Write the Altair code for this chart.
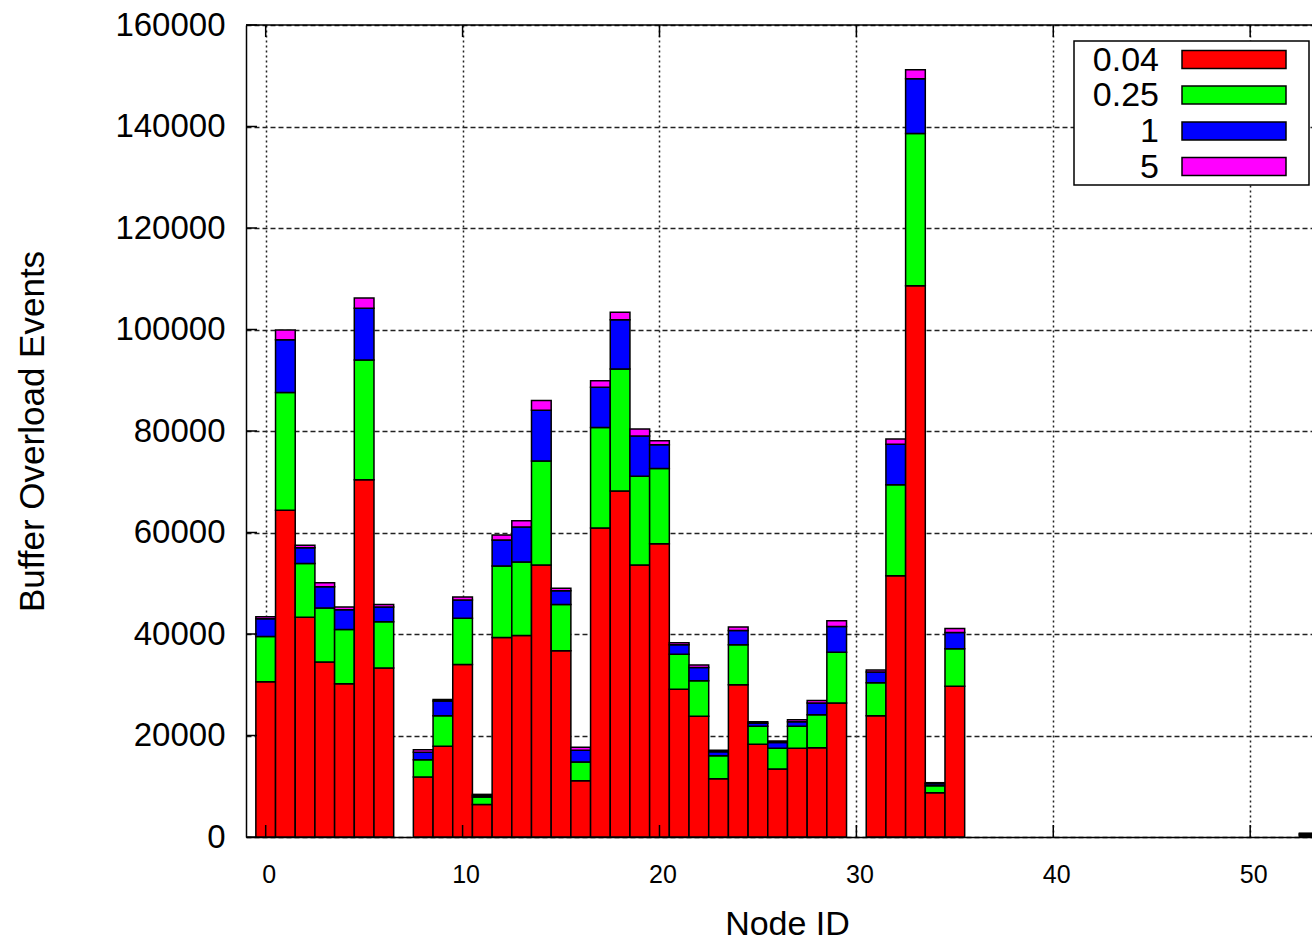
import altair as alt
import pandas as pd

# Node IDs that have bars
nodes = [0, 1, 2, 3, 4, 5, 6, 8, 9, 10, 11, 12, 13, 14, 15, 16, 17, 18, 19, 20,
         21, 22, 23, 24, 25, 26, 27, 28, 29, 31, 32, 33, 34, 35, 53]

# Segment values (thousands of events) per series
s_004 = [30.6, 64.4, 43.3, 34.5, 30.2, 70.4, 33.3, 11.8, 17.9, 34.0, 6.4, 39.3, 39.7, 53.6, 36.7, 11.1,
         60.9, 68.2, 53.6, 57.8, 29.1, 23.8, 11.5, 30.0, 18.3, 13.4, 17.5, 17.6, 26.4, 23.9, 51.5, 108.6,
         8.7, 29.7, 0.3]
s_025 = [8.9, 23.2, 10.6, 10.6, 10.7, 23.6, 9.1, 3.4, 6.0, 9.1, 1.5, 14.1, 14.5, 20.5, 9.1, 3.7,
         19.8, 24.0, 17.5, 14.8, 6.9, 7.0, 4.5, 7.9, 3.5, 4.1, 4.3, 6.5, 10.0, 6.5, 17.9, 30.0,
         1.4, 7.4, 0.2]
s_1 = [3.5, 10.4, 3.1, 4.2, 3.9, 10.2, 2.9, 1.5, 2.9, 3.6, 0.3, 5.1, 6.9, 10.0, 2.7, 2.3,
       7.9, 9.7, 7.9, 4.7, 1.9, 2.6, 0.8, 2.8, 0.6, 1.1, 0.9, 2.3, 5.1, 2.1, 8.0, 10.8,
       0.4, 3.2, 0.15]
s_5 = [0.4, 1.9, 0.5, 0.8, 0.5, 2.0, 0.5, 0.5, 0.3, 0.6, 0.2, 1.0, 1.2, 1.9, 0.5, 0.6,
       1.3, 1.5, 1.4, 0.8, 0.4, 0.5, 0.3, 0.7, 0.3, 0.3, 0.4, 0.5, 1.1, 0.4, 1.0, 1.8,
       0.2, 0.8, 0.1]

series = ["0.04", "0.25", "1", "5"]
colors = ["#ff0000", "#00ff00", "#0000ff", "#ff00ff"]

x_ticks = [0, 10, 20, 30, 40, 50]
y_ticks = [0, 20000, 40000, 60000, 80000, 100000, 120000, 140000, 160000]

rows = []
for i, n in enumerate(nodes):
    for k, vals in enumerate([s_004, s_025, s_1, s_5]):
        rows.append({"node": n, "series": series[k], "order": k, "value": vals[i] * 1000})
df = pd.DataFrame(rows)

FONT = "Liberation Sans"
W, H = 1066, 812

xscale = alt.Scale(domain=[-1, 53.14], nice=False, zero=False)
yscale = alt.Scale(domain=[0, 160000], nice=False, zero=True)
cscale = alt.Scale(domain=series, range=colors)

x_axis = alt.Axis(values=x_ticks, title="Node ID", labelFontSize=25, labelPadding=25,
                  labelOffset=3, ticks=False, grid=True, gridDash=[2, 3], gridColor="#222",
                  gridWidth=1.5, domainColor="black", domainWidth=1.5,
                  titleFontSize=34, titleFontWeight="normal", titleX=541, titleY=97,
                  titleBaseline="alphabetic", labelColor="black", titleColor="black")
y_axis = alt.Axis(values=y_ticks, format="d", title="Buffer Overload Events", labelFontSize=33,
                  labelPadding=21, ticks=False, grid=True, gridDash=[5, 3], gridColor="#222",
                  gridWidth=1.5, domainColor="black", domainWidth=1.5,
                  titleFontSize=35, titleFontWeight="normal", titleX=-203, titleY=406,
                  titleBaseline="alphabetic", labelColor="black", titleColor="black")

bars = alt.Chart(df).transform_stack(
    stack="value", groupby=["node"], sort=[alt.SortField("order", order="ascending")],
    as_=["y0", "y1"]
).transform_calculate(
    xl="datum.node - 0.5", xr="datum.node + 0.5"
).mark_bar(stroke="black", strokeWidth=1.5, clip=True, opacity=1).encode(
    x=alt.X("xl:Q", scale=xscale, axis=x_axis),
    x2="xr:Q",
    y=alt.Y("y0:Q", scale=yscale, axis=y_axis),
    y2="y1:Q",
    color=alt.Color("series:N", scale=cscale, legend=None),
)

ytick_df = pd.DataFrame({"v": y_ticks})
xtick_df = pd.DataFrame({"v": x_ticks})

ytick_rules = alt.Chart(ytick_df).mark_rule(color="black", strokeWidth=1.5).encode(
    y=alt.Y("v:Q", scale=yscale, axis=y_axis), x=alt.value(0), x2=alt.value(11)
)
xtick_bottom = alt.Chart(xtick_df).mark_rule(color="black", strokeWidth=1.5).encode(
    x=alt.X("v:Q", scale=xscale, axis=x_axis), y=alt.value(H), y2=alt.value(H - 12)
)
xtick_top = alt.Chart(xtick_df).mark_rule(color="black", strokeWidth=1.5).encode(
    x=alt.X("v:Q", scale=xscale, axis=x_axis), y=alt.value(0), y2=alt.value(12)
)
top_border = alt.Chart(pd.DataFrame({"a": [0]})).mark_rule(color="black", strokeWidth=1.5).encode(
    x=alt.value(0), x2=alt.value(W), y=alt.value(0)
)

# Legend (gnuplot style: label right-aligned, swatch to its right, boxed)
legend_box = alt.Chart(pd.DataFrame({"a": [0]})).mark_rect(
    fill="white", stroke="black", strokeWidth=1.5
).encode(
    x=alt.value(828), x2=alt.value(1063), y=alt.value(16), y2=alt.value(160)
)
legend_layers = [legend_box]
row_centers = [34.5, 70.0, 106.0, 141.5]
for s, cy in zip(series, row_centers):
    one = pd.DataFrame({"series": [s]})
    legend_layers.append(
        alt.Chart(one).mark_rect(stroke="black", strokeWidth=1.5).encode(
            x=alt.value(936), x2=alt.value(1040), y=alt.value(cy - 9), y2=alt.value(cy + 9),
            color=alt.Color("series:N", scale=cscale, legend=None),
        )
    )
    legend_layers.append(
        alt.Chart(one).mark_text(align="right", baseline="middle", fontSize=34, font=FONT,
                                 color="black", dy=1).encode(
            x=alt.value(913), y=alt.value(cy), text="series:N"
        )
    )

chart = alt.layer(bars, ytick_rules, xtick_bottom, xtick_top, top_border, *legend_layers).properties(
    width=W, height=H,
    autosize=alt.AutoSizeParams(type="none"),
    padding={"left": 246, "top": 25, "right": 0, "bottom": 104},
    background="white",
).configure_view(stroke=None).configure_axis(
    labelFont=FONT, titleFont=FONT
)

chart.save("out.html", embed_options={"renderer": "svg", "actions": False})
